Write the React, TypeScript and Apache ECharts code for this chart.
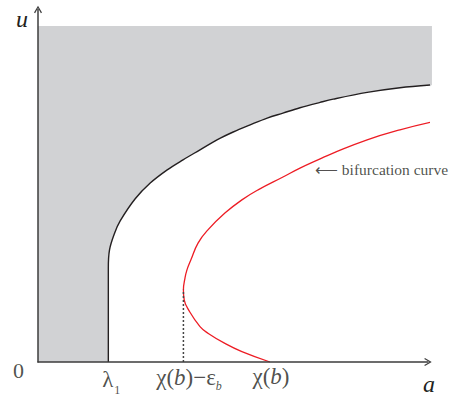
import React, { useEffect, useRef } from "react";
import * as echarts from "echarts";

// ---- data (in abstract a/u units) ----
const blackX = [1.78, 1.78, 1.81, 1.94, 2.08, 2.46, 2.84, 3.27, 3.67, 4.10, 4.53, 4.94, 5.37, 5.80, 6.20, 6.63, 7.14, 7.47, 8.33, 9.16, 9.97];
const blackY = [0, 2.63, 3.14, 3.61, 3.95, 4.57, 5.01, 5.38, 5.66, 5.94, 6.22, 6.44, 6.64, 6.83, 6.97, 7.12, 7.27, 7.36, 7.55, 7.68, 7.76];

const redX = [5.87, 5.16, 4.73, 4.31, 4.10, 3.81, 3.70, 3.68, 3.72, 3.77, 3.87, 4.05, 4.30, 4.73, 5.16, 5.57, 6.20, 6.63, 7.14, 7.47, 8.33, 9.16, 9.97];
const redY = [0, 0.29, 0.52, 0.80, 0.99, 1.46, 1.74, 2.02, 2.35, 2.58, 2.86, 3.33, 3.70, 4.17, 4.54, 4.82, 5.18, 5.43, 5.69, 5.85, 6.22, 6.50, 6.72];

const regionTop = 9.41;
const regionRight = 9.97;
const turnX = 3.68;
const turnY = 2.02;
const axisMax = 9.87;

const tickX = [0, 1.78, 3.68, 5.87];
const tickLabels = ["{n|0}", "{g|λ}{s1|1}", "{g|χ(}{i|b}{g|)−ε}{s2|b}", "{g|χ(}{i|b}{g|)}"];
const annotationPos = [7.01, 5.38];
const annotationText = "⟵ bifurcation curve";
const xName = "a";
const yName = "u";

const SERIF = "Liberation Serif, Times New Roman, serif";
const INK = "#231f20";
const AXIS = "#3d3d3d";
const GREY = "#d1d2d4";
const RED = "#ed1c24";
const CHEVRON = "path://M5 0 L10 8.5 L8.6 9.3 L5 2.8 L1.4 9.3 L0 8.5 Z";

const tickOffsets = [
  [-19.5, 8.5],
  [2.9, 18],
  [5.6, 16.2],
  [1, 15.2],
];

export default function App() {
  const ref = useRef<HTMLDivElement>(null);
  useEffect(() => {
    if (!ref.current) return;
    const chart = echarts.init(ref.current, undefined, { renderer: "svg" });

    const blackData = blackX.map((x, i) => [x, blackY[i]]);
    const redData = redX.map((x, i) => [x, redY[i]]);
    const last = blackData.length - 1;
    // grey region: its lower-right part is hidden under the white area of the boundary curve
    const greyPoly = [
      [0, 0],
      [blackX[0], 0],
      [blackX[last], blackY[last]],
      [regionRight, regionTop],
      [0, regionTop],
    ];

    const axisCommon = {
      type: "value" as const,
      min: 0,
      max: axisMax,
      z: 10,
      axisLine: {
        show: true,
        symbol: ["none", CHEVRON],
        symbolSize: [8, 10],
        lineStyle: { color: AXIS, width: 1.5 },
      },
      axisTick: { show: false },
      axisLabel: { show: false },
      splitLine: { show: false },
    };

    const richBase = { fontFamily: SERIF, color: INK };

    chart.setOption({
      animation: false,
      backgroundColor: "#ffffff",
      grid: { left: 38, right: 21, top: 9.5, bottom: 35 },
      xAxis: axisCommon,
      yAxis: axisCommon,
      series: [
        {
          type: "custom",
          silent: true,
          clip: false,
          z: 1,
          data: [[0, 0]],
          renderItem: (params: any, api: any) => {
            const pts = greyPoly.map((p) => api.coord(p));
            return {
              type: "polygon",
              shape: { points: pts },
              style: { fill: GREY },
            };
          },
        },
        {
          type: "line",
          data: blackData,
          smooth: 0.35,
          showSymbol: false,
          clip: false,
          silent: true,
          z: 2,
          lineStyle: { color: INK, width: 1.4 },
          areaStyle: { color: "#ffffff", opacity: 1 },
        },
        {
          type: "line",
          data: redData,
          smooth: 0.45,
          showSymbol: false,
          clip: false,
          silent: true,
          z: 3,
          lineStyle: { color: RED, width: 1.3 },
        },
        {
          type: "line",
          data: [
            [turnX, 0],
            [turnX, turnY],
          ],
          showSymbol: false,
          clip: false,
          silent: true,
          z: 3,
          lineStyle: { color: "#444444", width: 1.5, type: [2, 2] },
        },
        {
          type: "scatter",
          symbolSize: 0,
          clip: false,
          silent: true,
          z: 5,
          data: tickX.map((x, i) => ({
            value: [x, 0],
            label: {
              show: true,
              position: "inside",
              align: "center",
              verticalAlign: "middle",
              offset: tickOffsets[i],
              formatter: tickLabels[i],
              rich: {
                n: { ...richBase, fontSize: 22, lineHeight: 24 },
                g: { ...richBase, fontSize: 23, lineHeight: 24, verticalAlign: "top" },
                i: { ...richBase, fontSize: 23, lineHeight: 24, fontStyle: "italic", verticalAlign: "top" },
                s1: { ...richBase, fontSize: 12, lineHeight: 12, padding: [16, 0, 0, 1], verticalAlign: "top" },
                s2: { ...richBase, fontSize: 12, lineHeight: 12, padding: [14, 0, 0, 0], fontStyle: "italic", verticalAlign: "top" },
              },
            },
          })),
        },
        {
          type: "scatter",
          symbolSize: 0,
          clip: false,
          silent: true,
          z: 5,
          data: [
            {
              value: annotationPos,
              label: {
                show: true,
                position: "inside",
                align: "left",
                verticalAlign: "middle",
                formatter: annotationText,
                fontFamily: SERIF,
                fontSize: 15.5,
                color: INK,
              },
            },
          ],
        },
      ],
      graphic: [
        {
          type: "text",
          x: 22,
          y: 19,
          silent: true,
          style: { text: yName, fontFamily: SERIF, fontSize: 24, fontStyle: "italic", fill: INK, align: "center", verticalAlign: "middle" },
        },
        {
          type: "text",
          x: 429,
          y: 383.5,
          silent: true,
          style: { text: xName, fontFamily: SERIF, fontSize: 24, fontStyle: "italic", fill: INK, align: "center", verticalAlign: "middle" },
        },
      ],
    });
    return () => chart.dispose();
  }, []);

  return (
    <div
      ref={ref}
      style={{ position: "absolute", left: 0, top: 0, width: 449, height: 397, background: "#fff" }}
    />
  );
}
